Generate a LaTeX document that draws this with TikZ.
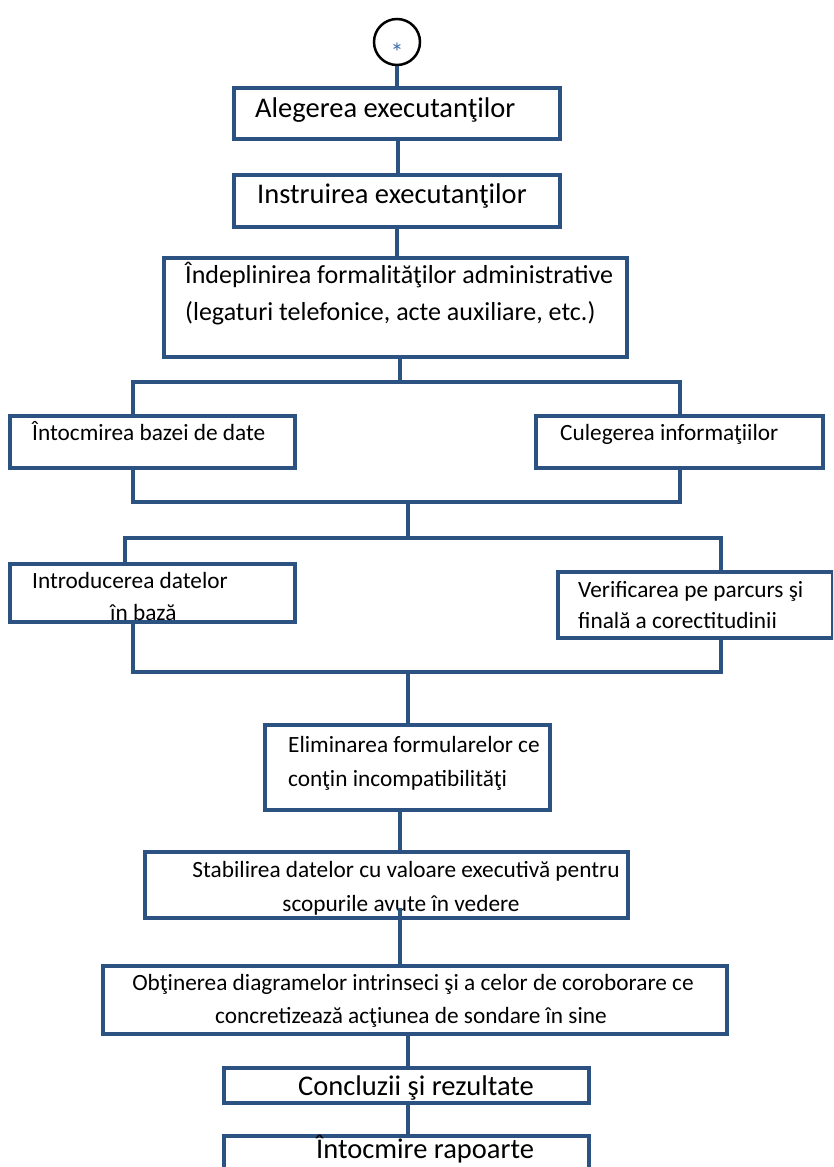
\documentclass[tikz,border=0pt]{standalone}
\usepackage{fontspec}
\setmainfont{Carlito}
\definecolor{bblue}{RGB}{44,82,130}
\definecolor{astblue}{RGB}{60,110,170}
\begin{document}
\begin{tikzpicture}[x=1pt,y=-1pt,
  box/.style={draw=bblue,line width=4pt,fill=none,rectangle,inner sep=0pt},
  conn/.style={draw=bblue,line width=3.5pt},
  tbig/.style={inner sep=0pt,font=\fontsize{28.5}{34}\selectfont},
  tmid/.style={inner sep=0pt,font=\fontsize{26}{34}\selectfont},
  tsm/.style={inner sep=0pt,font=\fontsize{23.3}{34}\selectfont}]
\useasboundingbox (0,0) rectangle (833,1167);
\clip (0,0) rectangle (833,1167);
\fill[white] (0,0) rectangle (833,1167);
% start circle
\node[circle,draw=black,line width=2.5pt,minimum size=46pt,inner sep=0pt] (c0) at (397,42) {};
\node[inner sep=0pt,text=astblue,font=\fontsize{26}{26}\selectfont] (ast) at (397,52) {*};
% boxes
\node[box,minimum width=326pt,minimum height=51pt] (b1) at (397,113.5) {};
\node[box,minimum width=326pt,minimum height=52pt] (b2) at (397,201) {};
\node[box,minimum width=463pt,minimum height=99pt] (b3) at (395.5,307.5) {};
\node[box,minimum width=285pt,minimum height=52pt] (b4) at (152.5,442) {};
\node[box,minimum width=287pt,minimum height=52pt] (b5) at (679.5,442) {};
\node[box,minimum width=285pt,minimum height=58pt] (b6) at (152.5,593) {};
\node[box,minimum width=275pt,minimum height=66pt] (b7) at (695.5,605) {};
\node[box,minimum width=285pt,minimum height=85pt] (b8) at (407.5,767.5) {};
\node[box,minimum width=483pt,minimum height=66pt] (b9) at (386.5,885) {};
\node[box,minimum width=624pt,minimum height=68pt] (b10) at (415,1000) {};
\node[box,minimum width=365pt,minimum height=35pt] (b11) at (406.5,1085.5) {};
\node[box,minimum width=365pt,minimum height=64pt] (b12) at (406.5,1168) {};
% texts
\node[tbig,anchor=base west] (t1) at (255,117) {Alegerea executanţilor};
\node[tbig,anchor=base west] (t2) at (257,203) {Instruirea executanţilor};
\node[tmid,anchor=base west] (t3a) at (185,283) {Îndeplinirea formalităţilor administrative};
\node[tmid,anchor=base west] (t3b) at (185,320) {(legaturi telefonice, acte auxiliare, etc.)};
\node[tsm,anchor=base west] (t4) at (32,440) {Întocmirea bazei de date};
\node[tsm,anchor=base west] (t5) at (560,440) {Culegerea informaţiilor};
\node[tsm,anchor=base west] (t6a) at (32,588) {Introducerea datelor};
\node[tsm,anchor=base west] (t6b) at (110,620) {în bază};
\node[tsm,anchor=base west] (t7a) at (578,597) {Verificarea pe parcurs şi};
\node[tsm,anchor=base west] (t7b) at (578,628) {finală a corectitudinii};
\node[tsm,anchor=base west] (t8a) at (288,752) {Eliminarea formularelor ce};
\node[tsm,anchor=base west] (t8b) at (288,786) {conţin incompatibilităţi};
\node[tsm,anchor=base] (t9a) at (406,877) {Stabilirea datelor cu valoare executivă pentru};
\node[tsm,anchor=base] (t9b) at (401,911) {scopurile avute în vedere};
\node[tsm,anchor=base] (t10a) at (413,990) {Obţinerea diagramelor intrinseci şi a celor de coroborare ce};
\node[tsm,anchor=base] (t10b) at (411,1023) {concretizează acţiunea de sondare în sine};
\node[tbig,anchor=base west] (t11) at (298,1095) {Concluzii şi rezultate};
\node[tbig,anchor=base west] (t12) at (316,1158) {Întocmire rapoarte};
% junction coordinates
\coordinate (j1) at (400,382);
\coordinate (j1L) at (133,382);
\coordinate (j1R) at (680,382);
\coordinate (j2L) at (133,502);
\coordinate (j2R) at (680,502);
\coordinate (j2) at (408,502);
\coordinate (j3) at (408,538);
\coordinate (j3L) at (125,538);
\coordinate (j3R) at (721,538);
\coordinate (j4L) at (133,672);
\coordinate (j4R) at (721,672);
\coordinate (j4) at (408,672);
% connectors
\draw[conn] (c0.south) -- (c0.south |- b1.north);
\draw[conn] (b1.south -| 398,0) -- (b2.north -| 398,0);
\draw[conn] (b2.south -| 397,0) -- (b3.north -| 397,0);
\draw[conn] (b3.south -| j1) -- (j1);
\draw[conn] (j1L |- b4.north) -- (j1L) -- (j1R) -- (j1R |- b5.north);
\draw[conn] (j2L |- b4.south) -- (j2L) -- (j2R) -- (j2R |- b5.south);
\draw[conn] (j2) -- (j3);
\draw[conn] (j3L |- b6.north) -- (j3L) -- (j3R) -- (j3R |- b7.north);
\draw[conn] (j4L |- b6.south) -- (j4L) -- (j4R) -- (j4R |- b7.south);
\draw[conn] (j4) -- (j4 |- b8.north);
\draw[conn] (b8.south -| 400,0) -- (b9.north -| 400,0);
\draw[conn] ([yshift=12pt]b9.south -| 400,0) -- (b10.north -| 400,0);
\draw[conn] (b10.south -| 408,0) -- (b11.north -| 408,0);
\draw[conn] (b11.south -| 408,0) -- (b12.north -| 408,0);
\end{tikzpicture}
\end{document}
